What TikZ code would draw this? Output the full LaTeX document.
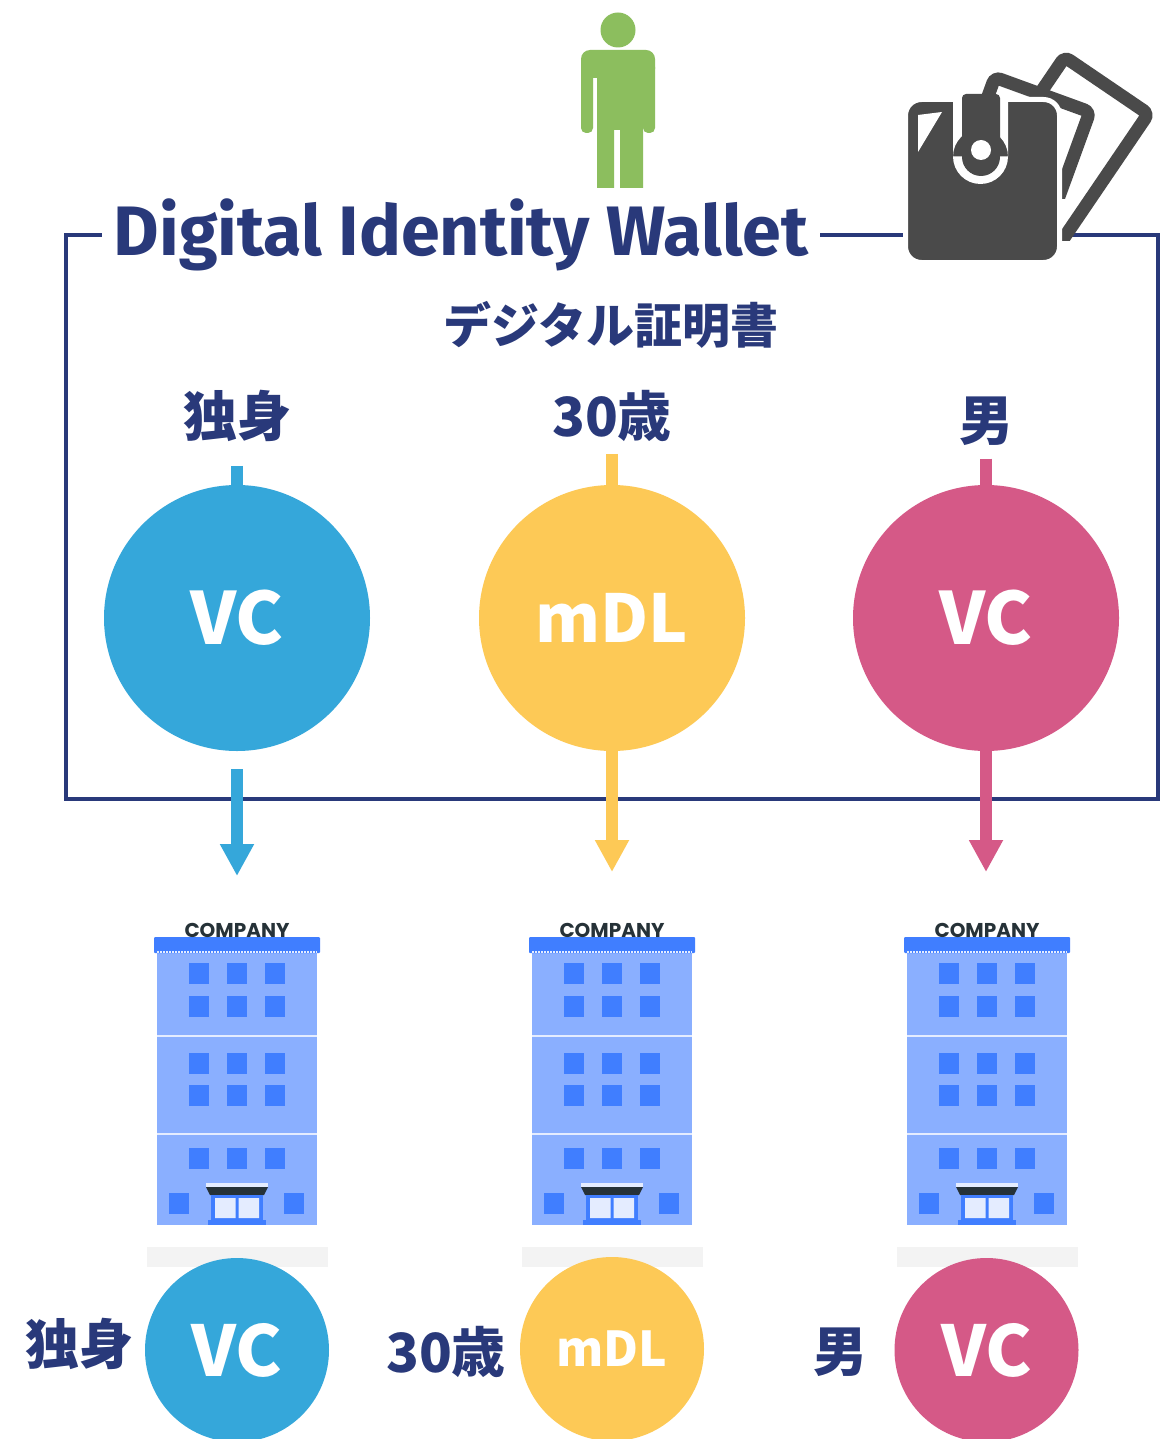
\documentclass[tikz,border=0pt]{standalone}
\usepackage{fontspec}
\setmainfont{Fira Sans}
\newfontfamily\jpfont{Noto Sans CJK JP}
\newfontfamily\logofont{Poppins}
\usetikzlibrary{arrows.meta, positioning}

\definecolor{navy}{RGB}{41,57,122}
\definecolor{vcblue}{RGB}{53,167,218}
\definecolor{mdlyellow}{RGB}{253,201,86}
\definecolor{vcpink}{RGB}{213,89,135}
\definecolor{persongreen}{RGB}{140,190,94}
\definecolor{walletgray}{RGB}{74,74,74}
\definecolor{bldlight}{RGB}{138,175,255}
\definecolor{bldwin}{RGB}{64,126,255}
\definecolor{bldpale}{RGB}{228,236,255}
\definecolor{bldtext}{RGB}{38,50,56}
\definecolor{bldshadow}{RGB}{243,243,243}

% office building, origin at the middle of its sign
\tikzset{
  company/.pic={
    \fill[bldshadow] (-90,327) rectangle (91,347);
    \fill[bldlight] (-80,33) rectangle (80,305);
    \fill[bldwin, rounded corners=1pt] (-83,17) rectangle (83,33);
    \draw[bldpale, line width=1.5pt, dash pattern=on 2pt off 1pt] (-80,32) -- (80,32);
    \draw[bldpale, line width=1.5pt] (-80,116) -- (80,116) (-80,214) -- (80,214);
    \foreach \wy in {53.5,86,143.5,175.5,238.5}
      \foreach \wx in {-38,0,38}
        \fill[bldwin] (\wx-10,\wy-10.5) rectangle (\wx+10,\wy+10.5);
    \foreach \wx in {-58,57}
      \fill[bldwin] (\wx-10,273) rectangle (\wx+10,294);
    % entrance
    \fill[bldpale] (-31,263) rectangle (31,267);
    \fill[bldtext] (-31,267) -- (31,267) -- (27,275) -- (-27,275) -- cycle;
    \fill[bldwin] (-26,275) rectangle (26,300);
    \fill[bldpale] (-22,278) rectangle (-1.5,298) (1.5,278) rectangle (22,298);
    \fill[bldwin] (-29,300) rectangle (29,305);
    \node[font=\logofont\bfseries\fontsize{20}{20}\selectfont, text=bldtext, inner sep=0] at (0,10) {COMPANY};
  }
}

\begin{document}
\begin{tikzpicture}[x=1pt, y=-1pt, on grid,
  frame/.style={draw=navy, line width=4.5pt},
  title/.style={text=navy, inner sep=12pt, font=\bfseries\fontsize{70}{70}\selectfont},
  lbl/.style={text=navy, inner sep=0, font=\jpfont\bfseries\fontsize{54}{54}\selectfont},
  cred/.style={circle, minimum size=266pt, inner sep=0, text=white, font=\jpfont\bfseries\fontsize{72}{72}\selectfont},
  held/.style={circle, minimum size=184pt, inner sep=0, text=white, font=\jpfont\bfseries\fontsize{70}{70}\selectfont},
  stub/.style={line width=12pt},
  send/.style={line width=12pt, -{Triangle[width=32pt, length=32pt]}},
  card/.style={walletgray, fill=white, line width=13pt, rounded corners=6pt},
]
\fill[white] (0,0) rectangle (1167,1439);
\useasboundingbox (0,0) rectangle (1167,1439);

% wallet frame with its title
\node[title] (title) at (461,235) {Digital Identity Wallet};
\draw[frame] (title.east) -- (1158,235) -- (1158,799) -- (66,799) -- (66,235) -- (title.west);
\node[lbl, font=\jpfont\bfseries\fontsize{48}{48}\selectfont] (certs) at (611,325) {デジタル証明書};

% holder
\fill[persongreen] (618,30) circle[radius=17.5];
\fill[persongreen, rounded corners=9pt] (581,50) rectangle (655,78);
\fill[persongreen, rounded corners=5pt] (581,62) rectangle (593,133);
\fill[persongreen, rounded corners=5pt] (643,62) rectangle (655,133);
\fill[persongreen] (597,60) rectangle (643,130);
\fill[persongreen] (597,120) rectangle (614,188) (620,120) rectangle (643,188);

% wallet icon: two cards behind the purse
\begin{scope}
  \clip (900,0) rectangle (1167,241);
  \begin{scope}[shift={(1063,48)}, rotate=-34.2]
    \draw[card] (6.5,6.5) rectangle (107.5,230);
  \end{scope}
\end{scope}
\begin{scope}
  \clip (900,0) rectangle (1167,199);
  \begin{scope}[shift={(991,69)}, rotate=-20]
    \draw[card] (6.5,6.5) rectangle (107.5,200);
  \end{scope}
\end{scope}
\filldraw[fill=walletgray, draw=white, line width=5pt, rounded corners=16pt] (905.5,99.5) rectangle (1059.5,262.5);
\fill[white] (918,115) -- (942,112) -- (918,152) -- cycle;
\fill[white] (953,102) rectangle (1008,156.5) (980.5,156.5) circle[radius=27.5];
\fill[walletgray, rounded corners=4pt] (962,94) rectangle (1000,157);
\fill[walletgray] (981,157) circle[radius=19];
\fill[white] (981,150) circle[radius=10];

% credentials in the wallet
\node[cred, fill=vcblue] (vcA) at (237,618) {VC};
\node[cred, fill=mdlyellow, font=\jpfont\bfseries\fontsize{66}{66}\selectfont] (mdlB) at (612,618) {mDL};
\node[cred, fill=vcpink] (vcC) at (986,618) {VC};

\node[lbl, above=202pt of vcA] (singleA) {独身};
\node[lbl, above=202pt of mdlB] (ageB) {30歳};
\node[lbl, above=197pt of vcC] (maleC) {男};

\draw[stub, vcblue, shorten <=24pt] (singleA) -- (vcA);
\draw[stub, mdlyellow, shorten <=12pt] (ageB) -- (mdlB);
\draw[stub, vcpink, shorten <=13pt] (maleC) -- (vcC);

% presented to each company
\coordinate[below=258pt of vcA] (inA);
\coordinate[below=254pt of mdlB] (inB);
\coordinate[below=254pt of vcC] (inC);

\draw[send, vcblue, shorten <=18pt] (vcA) -- (inA);
\draw[send, mdlyellow] (mdlB) -- (inB);
\draw[send, vcpink] (vcC) -- (inC);

\pic at (237,920) {company};
\pic at (612,920) {company};
\pic at (987,920) {company};

% what each company receives
\node[held, fill=vcblue] (heldA) at (237,1350) {VC};
\node[held, fill=mdlyellow, font=\jpfont\bfseries\fontsize{48}{48}\selectfont] (heldB) at (612,1349) {mDL};
\node[held, fill=vcpink] (heldC) at (986.5,1350) {VC};

\node[lbl] (singleAr) at (79,1344) {独身};
\node[lbl] (ageBr) at (446,1352) {30歳};
\node[lbl] (maleCr) at (840,1352) {男};
\end{tikzpicture}
\end{document}
